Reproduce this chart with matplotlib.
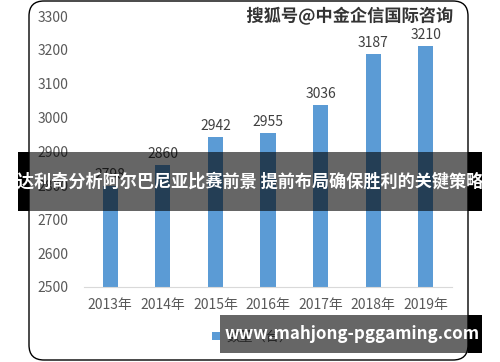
import matplotlib
matplotlib.use("Agg")
import matplotlib.pyplot as plt
from matplotlib.patches import Rectangle, FancyBboxPatch
import matplotlib.patheffects as pe

plt.rcParams['font.family'] = ['Noto Sans CJK SC', 'DejaVu Sans']

years = ["2013年", "2014年", "2015年", "2016年", "2017年", "2018年", "2019年"]
values = [2798, 2860, 2942, 2955, 3036, 3187, 3210]
yticks = [2500, 2600, 2700, 2800, 2900, 3000, 3100, 3200, 3300]
series_name = "数量（台）"
banner_text = "达利奇分析阿尔巴尼亚比赛前景 提前布局确保胜利的关键策略"
watermark_top = "搜狐号@中金企信国际咨询"
watermark_bottom = "www.mahjong-pggaming.com"

fig = plt.figure(figsize=(5, 3.62), dpi=100)
ax = fig.add_axes([0.168, 0.2072, 0.736, 0.7486])
x = list(range(len(years)))
bars = ax.bar(x, values, width=0.29, color="#5b9bd5", label=series_name, zorder=2)
ax.set_xlim(-0.5, len(years) - 0.5)
ax.set_ylim(2500, 3300)
ax.set_yticks(yticks)
ax.set_xticks(x)
ax.set_xticklabels(years)
for s in ["top", "right", "left"]:
    ax.spines[s].set_visible(False)
ax.spines["bottom"].set_color("#d9d9d9")
ax.tick_params(axis="both", length=0, colors="#595959", labelsize=10)
ax.tick_params(axis="y", pad=11)
ax.tick_params(axis="x", pad=8)
for b, v in zip(bars, values):
    ax.annotate(str(v), (b.get_x() + b.get_width() / 2, v), xytext=(0, 3),
                textcoords="offset points", ha="center", va="bottom",
                fontsize=10, color="#404040")
leg = fig.legend(handles=[bars], labels=[series_name], loc="center",
                 bbox_to_anchor=(0.505, 1 - 337 / 362), frameon=False,
                 fontsize=9.5, handlelength=0.6, handleheight=0.6,
                 handletextpad=0.5, labelcolor="#595959")

ov = fig.add_axes([0, 0, 1, 1], zorder=10)
ov.set_xlim(0, 500)
ov.set_ylim(362, 0)
ov.axis("off")
ov.patch.set_visible(False)

ov.add_patch(FancyBboxPatch((29, 1), 439, 359,
                            boxstyle="round,pad=0,rounding_size=15",
                            fill=False, edgecolor="black", lw=1.0, zorder=1))
ov.text(350, 16, watermark_top, ha="center", va="center", fontsize=12.4,
        fontweight="bold", color="#333333", zorder=2,
        path_effects=[pe.withStroke(linewidth=2.5, foreground="white")])

# central banner
ov.add_patch(Rectangle((18, 152), 11, 59, color="black", lw=0, zorder=3))
ov.add_patch(Rectangle((468, 152), 14, 59, color="black", lw=0, zorder=3))
ov.add_patch(Rectangle((29, 152), 439, 59, color="black", alpha=0.6, lw=0, zorder=3))
ov.text(250, 182, banner_text, ha="center", va="center", fontsize=12.3,
        fontweight="bold", color="white", zorder=4)

# bottom watermark
ov.add_patch(Rectangle((468, 315), 14, 38, color="black", lw=0, zorder=3))
ov.add_patch(Rectangle((220, 315), 248, 38, color="black", alpha=0.6, lw=0, zorder=3))
ov.text(352, 334, watermark_bottom, ha="center", va="center", fontsize=12.2,
        fontweight="bold", color="white", zorder=4)

fig.savefig("out.png", dpi=100)
